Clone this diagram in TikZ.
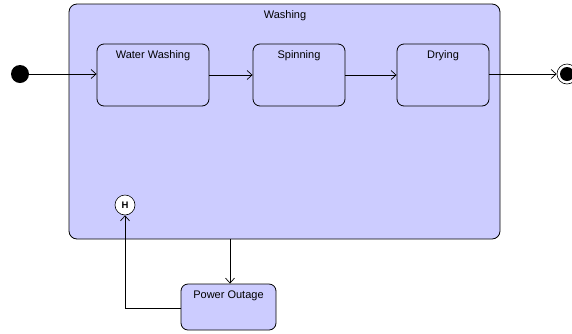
\documentclass[tikz,border=0pt]{standalone}
\usepackage{fontspec}
\setmainfont{Liberation Sans}
\usetikzlibrary{arrows.meta}
\definecolor{statefill}{RGB}{204,204,255}
\tikzset{
  state/.style={draw, fill=statefill, rounded corners=7pt, line width=0.8pt},
  stitle/.style={font=\fontsize{11}{13}\selectfont, anchor=center},
  trans/.style={line width=0.8pt, -{Straight Barb[length=5pt,width=9pt,line width=0.7pt]}},
  plain/.style={line width=0.8pt}
}
\begin{document}
\begin{tikzpicture}[x=1pt,y=-1pt]
\useasboundingbox (0,0) rectangle (572,333);
% composite state
\node[state, minimum width=431pt, minimum height=235pt, rounded corners=8pt] (wash) at (284.5,121.5) {};
\node[stitle] (washt) at (285,16) {Washing};
% substates
\node[state, minimum width=112pt, minimum height=62pt] (ww) at (153,75) {};
\node[stitle] at (153,56) {Water Washing};
\node[state, minimum width=92pt, minimum height=62pt] (spin) at (299,75) {};
\node[stitle] at (299,56) {Spinning};
\node[state, minimum width=92pt, minimum height=62pt] (dry) at (443,75) {};
\node[stitle] at (443,56) {Drying};
% pseudo states
\node[circle, fill=black, minimum size=18pt, inner sep=0pt] (init) at (20,74) {};
\node[circle, draw, fill=white, line width=0.6pt, minimum size=20pt, inner sep=0pt] (final) at (567,74) {};
\node[circle, fill=black, minimum size=14pt, inner sep=0pt] at (final.center) {};
\node[circle, draw, fill=white, line width=0.6pt, minimum size=20pt, inner sep=0pt, font=\bfseries\fontsize{9.5}{10}\selectfont] (hist) at (125,205) {H};
% power outage
\node[state, minimum width=95pt, minimum height=46pt] (po) at (228.5,307) {};
\node[stitle] at (228.5,296) {Power Outage};
% transitions
\draw[trans] (init.east) -- (ww.west |- init);
\draw[trans] (ww.east) -- (spin.west);
\draw[trans] (spin.east) -- (dry.west);
\draw[trans] (dry.east |- final) -- (final.west);
\coordinate (wb) at (230,239);
\draw[trans] (wb) -- (wb |- po.north);
\coordinate (pl) at (181,308);
\draw[trans] (pl) -| (hist.south);
\end{tikzpicture}
\end{document}
